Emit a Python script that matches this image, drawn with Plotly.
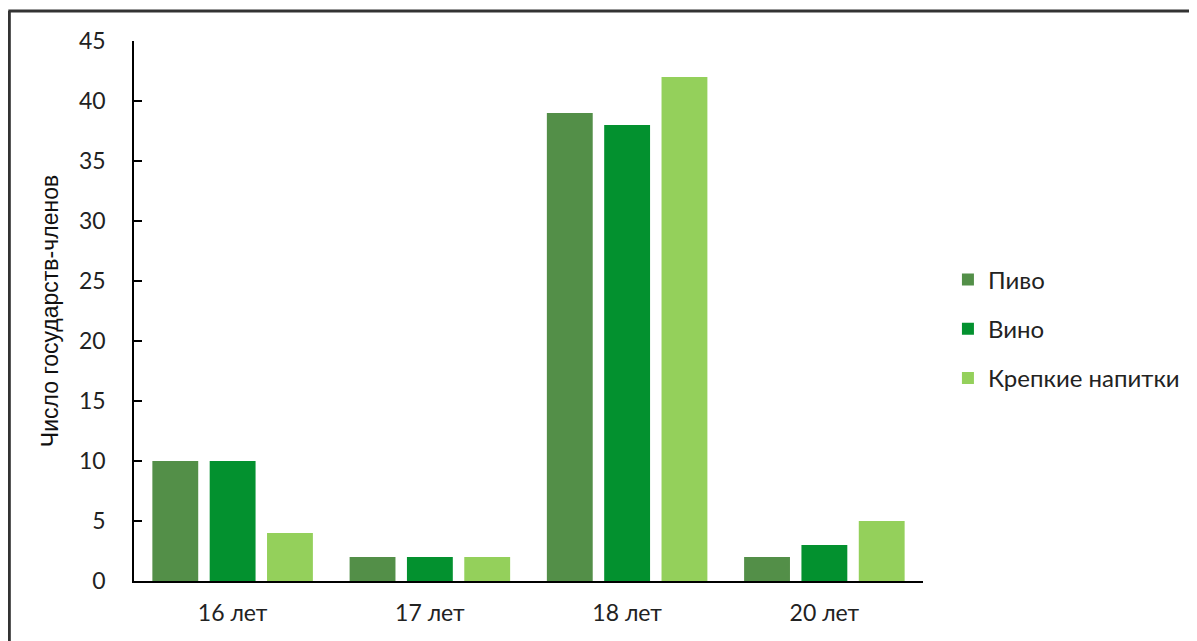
import plotly.graph_objects as go

categories = ["16 лет", "17 лет", "18 лет", "20 лет"]
series_names = ["Пиво", "Вино", "Крепкие напитки"]
beer = [10, 2, 39, 2]
wine = [10, 2, 38, 3]
spirits = [4, 2, 42, 5]
colors = ["#538F48", "#03912F", "#94D05B"]

fig = go.Figure()
for name, vals, col in zip(series_names, [beer, wine, spirits], colors):
    fig.add_trace(go.Bar(x=categories, y=vals, name=name, marker_color=col,
                         marker_line_width=0, legendgroup=name))

# page body has an 8px offset
OFF = 8
W, H = 1189, 633
L, T = 134 - OFF, 41 - OFF
R = W - (925 - OFF)
B = H - (581 - OFF)
pw, ph = W - L - R, H - T - B

def px_x(px):
    return (px - OFF - L) / pw

def px_y(py):
    return (H - B - (py - OFF)) / ph

fig.update_layout(
    width=W, height=H,
    margin=dict(l=L, r=R, t=T, b=B),
    paper_bgcolor="white", plot_bgcolor="white",
    barmode="group", bargap=0.128, bargroupgap=0.2,
    font=dict(family="Lato, Liberation Sans, sans-serif", size=23, color="#222"),
    legend=dict(x=px_x(950), y=px_y(329), xanchor="left", yanchor="middle",
                tracegroupgap=15, font=dict(size=24), itemwidth=30),
    showlegend=True,
    xaxis=dict(showline=True, linecolor="black", linewidth=1.5, ticks="outside",
               ticklen=11, tickcolor="white", showgrid=False, zeroline=False),
    yaxis=dict(range=[0, 45], dtick=5, showline=True, linecolor="black", linewidth=1.5,
               ticks="inside", ticklen=8, tickcolor="black", tickwidth=1.5,
               showgrid=False, zeroline=False, ticklabelstandoff=22,
               title=dict(text="Число государств-членов", standoff=14,
                          font=dict(family="Arial, Liberation Sans, sans-serif",
                                    size=23, color="#111"))),
)

fig.add_shape(type="line", xref="paper", yref="paper", x0=px_x(9), x1=px_x(9),
              y0=px_y(11), y1=px_y(660), line=dict(color="#333", width=3))
fig.add_shape(type="line", xref="paper", yref="paper", x0=px_x(8), x1=px_x(1210),
              y0=px_y(11), y1=px_y(11), line=dict(color="#333", width=3))

fig.write_html("out.html")
